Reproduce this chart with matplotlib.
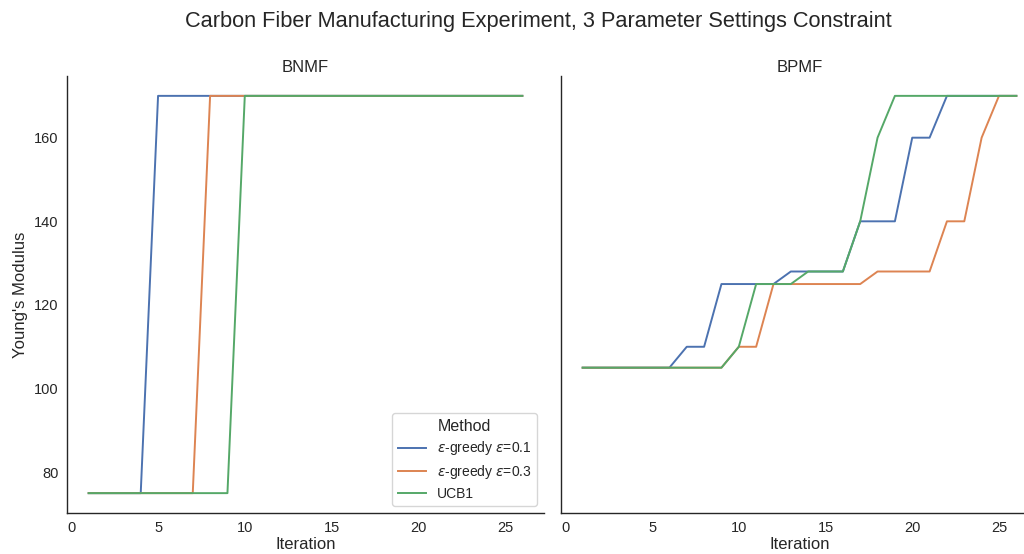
import matplotlib.pyplot as plt
import numpy as np

plt.rcParams['font.family'] = ['Liberation Sans', 'DejaVu Sans']
plt.rcParams['text.color'] = '#262626'
plt.rcParams['axes.labelcolor'] = '#262626'
plt.rcParams['xtick.color'] = '#262626'
plt.rcParams['ytick.color'] = '#262626'
plt.rcParams['mathtext.fontset'] = 'dejavusans'

iterations = np.arange(1, 27)

methods = [r'$\varepsilon$-greedy $\varepsilon$=0.1',
           r'$\varepsilon$-greedy $\varepsilon$=0.3',
           'UCB1']
colors = ['#4C72B0', '#DD8452', '#55A868']

# best Young's modulus found so far, per iteration
bnmf_eps01 = [75, 75, 75, 75] + [170] * 22
bnmf_eps03 = [75] * 7 + [170] * 19
bnmf_ucb1 = [75] * 9 + [170] * 17

bpmf_eps01 = [105, 105, 105, 105, 105, 105, 110, 110, 125, 125, 125, 125, 128,
              128, 128, 128, 140, 140, 140, 160, 160, 170, 170, 170, 170, 170]
bpmf_eps03 = [105, 105, 105, 105, 105, 105, 105, 105, 105, 110, 110, 125, 125,
              125, 125, 125, 125, 128, 128, 128, 128, 140, 140, 160, 170, 170]
bpmf_ucb1 = [105, 105, 105, 105, 105, 105, 105, 105, 105, 110, 125, 125, 125,
             128, 128, 128, 140, 160, 170, 170, 170, 170, 170, 170, 170, 170]

panels = [('BNMF', [bnmf_eps01, bnmf_eps03, bnmf_ucb1]),
          ('BPMF', [bpmf_eps01, bpmf_eps03, bpmf_ucb1])]

fig = plt.figure(figsize=(10.24, 5.54), dpi=100)
ax1 = fig.add_axes([67 / 1024, 41 / 554, 477 / 1024, 437 / 554])
ax2 = fig.add_axes([561 / 1024, 41 / 554, 477 / 1024, 437 / 554], sharey=ax1)

for ax, (name, series) in zip([ax1, ax2], panels):
    for label, values, color in zip(methods, series, colors):
        ax.plot(iterations, values, color=color, lw=1.4, label=label)
    ax.set_title(name, fontsize=12, pad=3)
    ax.set_xlabel('Iteration', fontsize=12, labelpad=1)
    ax.set_xticks(np.arange(0, 26, 5))
    ax.set_xlim(-0.25, 27.25)
    ax.tick_params(length=0, labelsize=10.5, pad=6)
    for side in ['top', 'right']:
        ax.spines[side].set_visible(False)
    for side in ['left', 'bottom']:
        ax.spines[side].set_color('#262626')
        ax.spines[side].set_linewidth(1.0)

ax1.set_yticks([80, 100, 120, 140, 160])
ax1.set_ylim(70.25, 174.75)
ax1.set_ylabel("Young's Modulus", fontsize=12, labelpad=4)
plt.setp(ax2.get_yticklabels(), visible=False)

leg = ax1.legend(title='Method', loc='lower right', fontsize=10,
                 title_fontsize=11.5, frameon=True, fancybox=True,
                 borderaxespad=0.5, labelspacing=0.4)
leg.get_frame().set_edgecolor('#cccccc')

fig.suptitle('Carbon Fiber Manufacturing Experiment, 3 Parameter Settings Constraint',
             fontsize=15.7, x=538 / 1024, y=1 - 22 / 554, va='center')

fig.savefig('out.png', dpi=100)
